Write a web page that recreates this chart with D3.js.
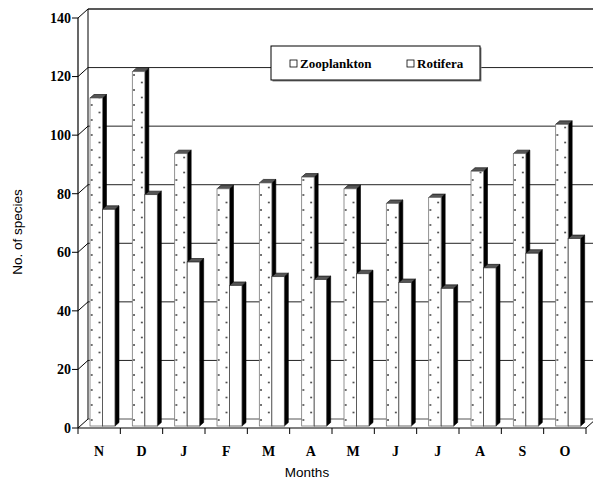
<!DOCTYPE html>
<html>
<head>
<meta charset="utf-8">
<script src="https://cdn.jsdelivr.net/npm/d3@7"></script>
<style>
  body { margin: 0; background: #fff; }
  svg { display: block; }
  .serif { font-family: "Liberation Serif", "Times New Roman", Times, serif; font-weight: bold; }
  .sans { font-family: "Liberation Sans", Arial, Helvetica, sans-serif; }
</style>
</head>
<body>
<div id="container"></div>
<script>
/* DATA */
const months = ["N", "D", "J", "F", "M", "A", "M", "J", "J", "A", "S", "O"];
const series = ["Zooplankton", "Rotifera"];
const zooplankton = [112, 121, 93, 81, 83, 85, 81, 76, 78, 87, 93, 103];
const rotifera = [74, 79, 56, 48, 51, 50, 52, 49, 47, 54, 59, 64];
const yTicks = [0, 20, 40, 60, 80, 100, 120, 140];

/* CONSTANTS */
const width = 593,
  height = 480,
  margin = { top: 18, bottom: 52, left: 78, right: 7 },
  depth = { x: 10, y: -9 },      // back wall offset
  barDepth = { x: 4, y: -3.5 },  // bar thickness
  barShift = { x: 0, y: -2 };    // bars sit a little into the floor

const rows = months.map((m, i) => ({ i, month: m, values: [zooplankton[i], rotifera[i]] }));

/* SCALES */
const xScale = d3.scaleBand()
  .domain(d3.range(months.length))
  .range([margin.left, width - margin.right]);

const xInner = d3.scaleBand()
  .domain(series)
  .range([12, 12 + 25]);

const yScale = d3.scaleLinear()
  .domain([0, 140])
  .range([height - margin.bottom, margin.top]);

/* SVG */
const svg = d3.select("#container")
  .append("svg")
  .attr("width", width)
  .attr("height", height);

const defs = svg.append("defs");
const pat = defs.append("pattern")
  .attr("id", "dots")
  .attr("patternUnits", "userSpaceOnUse")
  .attr("width", 15.6)
  .attr("height", 15)
  .attr("x", 91.7)
  .attr("y", 2);
pat.append("rect").attr("width", 15.6).attr("height", 15).attr("fill", "#fff");
[[0, 0], [15.6, 0], [0, 15], [15.6, 15], [7.8, 7.5]].forEach(([cx, cy]) => {
  pat.append("circle").attr("cx", cx).attr("cy", cy).attr("r", 0.9).attr("fill", "#333");
});

const x0 = margin.left, x1 = width - margin.right, y0 = yScale(0);

// back wall gridlines + left wall diagonals
const grid = svg.append("g");
yTicks.forEach(t => {
  const y = yScale(t);
  grid.append("line")
    .attr("x1", x0 + depth.x).attr("x2", x1 + depth.x)
    .attr("y1", y + depth.y).attr("y2", y + depth.y)
    .attr("stroke", t === 0 ? "#555" : "#222")
    .attr("stroke-width", t === 140 ? 1.5 : 1);
  grid.append("line")
    .attr("x1", x0).attr("y1", y)
    .attr("x2", x0 + depth.x).attr("y2", y + depth.y)
    .attr("stroke", "#000");
});
// back wall left edge
grid.append("line")
  .attr("x1", x0 + depth.x).attr("x2", x0 + depth.x)
  .attr("y1", yScale(140) + depth.y).attr("y2", y0 + depth.y)
  .attr("stroke", "#000");
// right floor diagonal
grid.append("line")
  .attr("x1", x1).attr("y1", y0)
  .attr("x2", x1 + depth.x).attr("y2", y0 + depth.y)
  .attr("stroke", "#000");

// bars
const bars = svg.append("g")
  .selectAll("g")
  .data(rows)
  .join("g")
  .attr("transform", d => `translate(${xScale(d.i) + barShift.x},${barShift.y})`);

const bar = bars.selectAll("g")
  .data(d => d.values.map((v, k) => ({ key: series[k], value: v })))
  .join("g");

const bw = xInner.bandwidth();

// side face
bar.append("path")
  .attr("d", d => {
    const x = xInner(d.key) + bw, yt = yScale(d.value);
    return `M${x},${y0} L${x},${yt} L${x + barDepth.x},${yt + barDepth.y} L${x + barDepth.x},${y0 + barDepth.y} Z`;
  })
  .attr("fill", "#000")
  .attr("stroke", "#000")
  .attr("stroke-width", 0.6);

// top face
bar.append("path")
  .attr("d", d => {
    const x = xInner(d.key), yt = yScale(d.value);
    return `M${x},${yt} L${x + barDepth.x},${yt + barDepth.y} L${x + bw + barDepth.x},${yt + barDepth.y} L${x + bw},${yt} Z`;
  })
  .attr("fill", "#555")
  .attr("stroke", "#000")
  .attr("stroke-width", 0.6);

// front face
bar.append("rect")
  .attr("x", d => xInner(d.key))
  .attr("y", d => yScale(d.value))
  .attr("width", bw)
  .attr("height", d => y0 - yScale(d.value))
  .attr("fill", d => d.key === "Zooplankton" ? "url(#dots)" : "#fff")
  .attr("stroke", d => d.key === "Zooplankton" ? "#777" : "#444")
  .attr("stroke-width", 0.8);

// front axes
svg.append("line")
  .attr("x1", x0).attr("x2", x0)
  .attr("y1", yScale(140)).attr("y2", y0)
  .attr("stroke", "#000").attr("stroke-width", 1.2);
svg.append("line")
  .attr("x1", x0).attr("x2", x1)
  .attr("y1", y0).attr("y2", y0)
  .attr("stroke", "#000").attr("stroke-width", 1.2);

// y ticks and labels
const yAxis = svg.append("g");
yTicks.forEach(t => {
  yAxis.append("line")
    .attr("x1", x0 - 6).attr("x2", x0)
    .attr("y1", yScale(t)).attr("y2", yScale(t))
    .attr("stroke", "#000");
  yAxis.append("text")
    .attr("class", "serif")
    .attr("x", x0 - 7)
    .attr("y", yScale(t))
    .attr("dy", "0.35em")
    .attr("text-anchor", "end")
    .attr("font-size", 14)
    .text(t);
});

// x ticks and labels
const xAxis = svg.append("g");
d3.range(months.length + 1).forEach(i => {
  const x = i < months.length ? xScale(i) : x1;
  xAxis.append("line")
    .attr("x1", x).attr("x2", x)
    .attr("y1", y0).attr("y2", y0 + 6)
    .attr("stroke", "#000");
});
xAxis.selectAll("text")
  .data(rows)
  .join("text")
  .attr("class", "serif")
  .attr("x", d => xScale(d.i) + xScale.bandwidth() / 2)
  .attr("y", 456)
  .attr("text-anchor", "middle")
  .attr("font-size", 14)
  .text(d => d.month);

// axis titles
svg.append("text")
  .attr("class", "sans")
  .attr("x", 307).attr("y", 477)
  .attr("text-anchor", "middle")
  .attr("font-size", 13.5)
  .text("Months");

svg.append("text")
  .attr("class", "sans")
  .attr("transform", "translate(22,232) rotate(-90)")
  .attr("text-anchor", "middle")
  .attr("font-size", 13.5)
  .text("No. of species");

// legend
const legend = svg.append("g").attr("transform", "translate(271,46)");
legend.append("rect")
  .attr("x", 1.5).attr("y", 1.5).attr("width", 209).attr("height", 34)
  .attr("fill", "#888");
legend.append("rect")
  .attr("width", 209).attr("height", 34)
  .attr("fill", "#fff").attr("stroke", "#000");
const legendX = [19, 136];
series.forEach((s, k) => {
  legend.append("rect")
    .attr("x", legendX[k]).attr("y", 14)
    .attr("width", 7).attr("height", 7)
    .attr("fill", "#fff").attr("stroke", "#000").attr("stroke-width", 0.8);
  legend.append("text")
    .attr("class", "serif")
    .attr("x", legendX[k] + 10).attr("y", 22)
    .attr("font-size", 13)
    .text(s);
});
</script>
</body>
</html>
